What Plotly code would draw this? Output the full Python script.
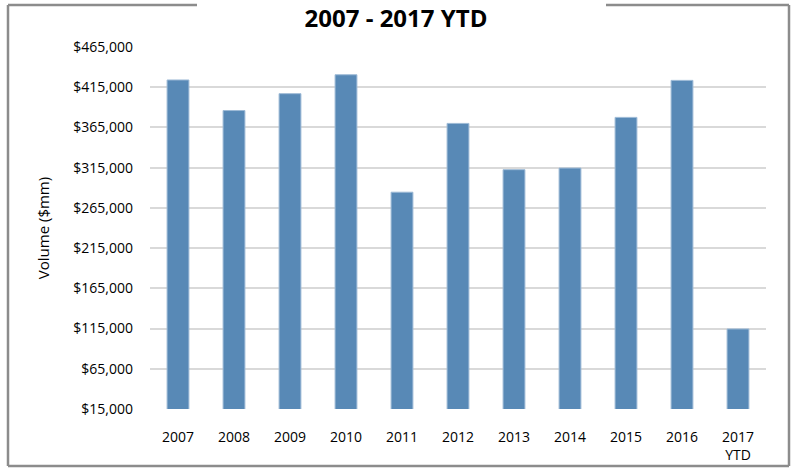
import plotly.graph_objects as go

years = ["2007", "2008", "2009", "2010", "2011", "2012", "2013", "2014", "2015", "2016", "2017<br>YTD"]
volume = [424000, 386000, 407000, 430500, 284500, 370000, 312500, 314500, 377500, 423500, 114500]
y_ticks = list(range(15000, 465001, 50000))
y_tick_text = ["${:,}".format(v) for v in y_ticks]

W, H = 792, 469
L, R, T, B = 150, 26, 47, 60
pw, ph = W - L - R, H - T - B

def px(x):
    return (x - L) / pw

def py(y):
    return (H - B - y) / ph

fig = go.Figure(go.Bar(
    x=years, y=volume,
    marker=dict(color="#5889B6", line=dict(color="#9DBAD6", width=1)),
))

border = dict(type="line", xref="paper", yref="paper", line=dict(color="#8C8C8C", width=2.5))
shapes = [
    dict(border, x0=px(8), x1=px(8), y0=py(5), y1=py(466)),
    dict(border, x0=px(789), x1=px(789), y0=py(5), y1=py(466)),
    dict(border, x0=px(8), x1=px(789), y0=py(466), y1=py(466)),
    dict(border, x0=px(8), x1=px(197), y0=py(5), y1=py(5)),
    dict(border, x0=px(606), x1=px(789), y0=py(5), y1=py(5)),
]

fig.update_layout(
    width=W, height=H,
    margin=dict(l=L, r=R, t=T, b=B, autoexpand=False),
    paper_bgcolor="white", plot_bgcolor="white",
    font=dict(family="Open Sans", size=14, color="#000000"),
    title=dict(text="<b>2007 - 2017 YTD</b>", x=0.5, xanchor="center", xref="container",
               y=1 - 19 / H, yanchor="middle", yref="container",
               font=dict(size=24, family="Open Sans")),
    bargap=0.61,
    showlegend=False,
    shapes=shapes,
    xaxis=dict(showgrid=False, showline=False, ticks="", ticklabelstandoff=18,
               tickfont=dict(size=14), automargin=False),
    yaxis=dict(range=[15000, 465000], tickvals=y_ticks, ticktext=y_tick_text,
               showgrid=True, gridcolor="#D9D9D9", gridwidth=1.5, zeroline=False,
               ticks="", ticklabelstandoff=16, tickfont=dict(size=14), automargin=False,
               title=dict(text="Volume ($mm)", font=dict(size=15), standoff=20)),
)

fig.write_html("out.html")
